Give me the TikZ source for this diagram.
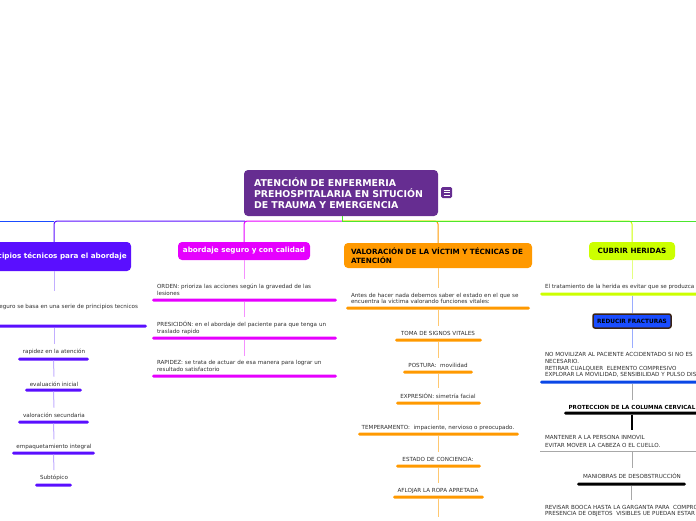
\documentclass[tikz,border=0pt]{standalone}
\usepackage{fontspec}
\setmainfont{DejaVu Sans}
\definecolor{rootc}{HTML}{662D91}
\definecolor{purpc}{HTML}{5A0FFF}
\definecolor{purpl}{HTML}{C2AEFF}
\definecolor{magc}{HTML}{E600FF}
\definecolor{magl}{HTML}{F590FF}
\definecolor{orc}{HTML}{FF9900}
\definecolor{orl}{HTML}{FFC870}
\definecolor{ylc}{HTML}{CCFF00}
\definecolor{yll}{HTML}{E4FF80}
\definecolor{bluec}{HTML}{1A4CFF}
\definecolor{bluel}{HTML}{9AACFF}
\definecolor{blueul}{HTML}{0A47E6}
\definecolor{greenc}{HTML}{4CE62E}
\definecolor{frame}{HTML}{3B2314}
\definecolor{grayl}{HTML}{A8A8A8}
\definecolor{txt}{HTML}{2E2E2E}
\begin{document}
\begin{tikzpicture}[x=1pt,y=-1pt,
  root/.style={fill=rootc, rounded corners=4pt, text=white,
    font=\fontsize{9.4}{11}\selectfont\bfseries, minimum width=194pt,
    minimum height=46pt, text width=174pt, align=left, inner sep=0pt},
  br/.style={fill=#1, rounded corners=4pt, inner sep=0pt,
    font=\fontsize{7.2}{9}\selectfont\bfseries},
  subtxt/.style={font=\fontsize{5.6}{6.5}\selectfont, text=txt, inner sep=1pt, outer sep=4pt},
  ulbar/.style={fill=#1, inner sep=0pt, minimum height=3pt, rounded corners=1.5pt},
  conn/.style={draw=#1, line width=1pt},
  bus/.style={draw=#1, line width=1pt, rounded corners=3pt}
]
\useasboundingbox (0,0) rectangle (696,520);
\clip (0,0) rectangle (696,520);

% root
\node[root] (root) at (341,193) {ATENCIÓN DE ENFERMERIA\\PREHOSPITALARIA EN SITUCIÓN\\DE TRAUMA Y EMERGENCIA};
\node[fill=rootc, rounded corners=1.5pt, minimum size=11pt, inner sep=0pt] (menu) at (446.5,192.5) {};
\foreach \dy in {-2.5,0,2.5}
  \draw[white, line width=0.8pt] ([shift={(-3pt,\dy pt)}]menu.center) -- ([shift={(3pt,\dy pt)}]menu.center);

% main branches
\node[br=purpc, text=white, minimum width=154pt, minimum height=29pt] (P) at (54,256.5) {Principios técnicos para el abordaje};
\node[br=magc, text=white, minimum width=132pt, minimum height=18pt] (M) at (244,251) {abordaje seguro y con calidad};
\node[br=orc, text=black, minimum width=188pt, minimum height=25pt, text width=174pt, align=left] (O) at (438,255.5) {VALORACIÓN DE LA VÍCTIM Y TÉCNICAS DE\\ATENCIÓN};
\node[br=ylc, text=black, minimum width=86pt, minimum height=18pt] (Y) at (632,251) {CUBRIR HERIDAS};

% bus
\coordinate (busR) at (342,221);
\coordinate (busM) at (245,221);
\coordinate (busP) at (54,221);
\coordinate (busL) at (-5,221);
\coordinate (busE) at (700,221);
\draw[bus=magc] (busR) -| (M.north);
\draw[bus=purpc] (busM) -| (P.north);
\draw[conn=bluec] (busP) -- (busL);
\draw[bus=orc] (busR) -| (O.north);
\draw[bus=ylc] (busR) -| (Y.north);
\draw[conn=greenc] (root.south -| busR) -- (busR) -- (busE);

% ---- branch P
\node[subtxt, anchor=east] (p0) at (143,307) {El abordaje seguro se basa en una serie de principios tecnicos};
\node[ulbar=purpc, minimum width=160pt] (p0u) at (67,326) {};
\coordinate (p0top) at (54,291);
\node[subtxt] (p1) at (54,352) {rapidez en la atención};
\node[ulbar=purpc, minimum width=71pt] (p1u) at (53.5,359) {};
\node[subtxt] (p2) at (54,384) {evaluación inicial};
\node[ulbar=purpc, minimum width=57pt] (p2u) at (53.5,390) {};
\node[subtxt] (p3) at (54,415) {valoración secundaria};
\node[ulbar=purpc, minimum width=71pt] (p3u) at (53.5,422) {};
\node[subtxt] (p4) at (54,447) {empaquetamiento integral};
\node[ulbar=purpc, minimum width=83pt] (p4u) at (53.5,453) {};
\node[subtxt] (p5) at (54,478) {Subtópico};
\node[ulbar=purpc, minimum width=37pt] (p5u) at (53.5,485) {};
\draw[conn=purpl] (P.south) -- (p0top);
\draw[conn=purpl] (p0u.south -| P.south) -- (p1.north);
\draw[conn=purpl] (p1u.south) -- (p2.north);
\draw[conn=purpl] (p2u.south) -- (p3.north);
\draw[conn=purpl] (p3u.south) -- (p4.north);
\draw[conn=purpl] (p4u.south) -- (p5.north);

% ---- branch M
\node[subtxt, text width=180pt, align=left] (m1) at (247,290) {ORDEN: prioriza las acciones según la gravedad de las\\lesiones};
\node[ulbar=magc, minimum width=185pt] (m1u) at (244.5,300) {};
\node[subtxt, text width=180pt, align=left] (m2) at (247,328) {PRESICIDÓN: en el abordaje del paciente para que tenga un\\traslado rapido};
\node[ulbar=magc, minimum width=185pt] (m2u) at (244.5,338) {};
\node[subtxt, text width=180pt, align=left] (m3) at (247,366) {RAPIDEZ: se trata de actuar de esa manera para lograr un\\resultado satisfactorio};
\node[ulbar=magc, minimum width=185pt] (m3u) at (244.5,376) {};
\draw[conn=magl] (M.south) -- (M.south |- m1.north);
\draw[conn=magl] (m1u.south) -- (m1u.south |- m2.north);
\draw[conn=magl] (m2u.south) -- (m2u.south |- m3.north);

% ---- branch O
\node[subtxt, text width=180pt, align=left] (o1) at (441,298.5) {Antes de hacer nada debemos saber el estado en el que se\\encuentra la victima valorando funciones vitales:};
\node[ulbar=orc, minimum width=184pt] (o1u) at (438,308) {};
\node[subtxt] (o2) at (438,333) {TOMA DE SIGNOS VITALES};
\node[ulbar=orc, minimum width=87pt] (o2u) at (438.5,340) {};
\node[subtxt] (o3) at (438,365) {POSTURA:\ \ movilidad};
\node[ulbar=orc, minimum width=70pt] (o3u) at (438,372) {};
\node[subtxt] (o4) at (438,396) {EXPRESIÓN: simetría facial};
\node[ulbar=orc, minimum width=85pt] (o4u) at (438.5,403) {};
\node[subtxt] (o5) at (438,428) {TEMPERAMENTO:\ \ impaciente, nervioso o preocupado.};
\node[ulbar=orc, minimum width=161pt] (o5u) at (438.5,434) {};
\node[subtxt] (o6) at (438,459) {ESTADO DE CONCIENCIA:};
\node[ulbar=orc, minimum width=85pt] (o6u) at (438.5,466) {};
\node[subtxt] (o7) at (438,491) {AFLOJAR LA ROPA APRETADA};
\node[ulbar=orc, minimum width=91pt] (o7u) at (438.5,497) {};
\coordinate (oend) at (438,517);
\draw[conn=orl] (O.south) -- (O.south |- o1.north);
\draw[conn=orl] (o1u.south) -- (o1u.south |- o2.north);
\draw[conn=orl] (o2u.south) -- (o2u.south |- o3.north);
\draw[conn=orl] (o3u.south) -- (o3u.south |- o4.north);
\draw[conn=orl] (o4u.south) -- (o4u.south |- o5.north);
\draw[conn=orl] (o5u.south) -- (o5u.south |- o6.north);
\draw[conn=orl] (o6u.south) -- (o6u.south |- o7.north);
\draw[conn=orl] (o7u.south) -- (o7u.south |- oend);

% ---- branch Y
\node[subtxt, anchor=west] (y1) at (540,287) {El tratamiento de la herida es evitar que se produzca infección};
\node[ulbar=ylc, minimum width=184pt] (y1u) at (632,294) {};
\node[fill=bluec, draw=frame, line width=1.5pt, rounded corners=2pt, minimum width=78pt, minimum height=14pt, inner sep=0pt,
  font=\fontsize{5.8}{7}\selectfont\bfseries] (R) at (632,321) {REDUCIR FRACTURAS};
\node[subtxt, anchor=west, align=left, font=\fontsize{5.6}{6.7}\selectfont] (y2) at (540,365) {NO MOVILIZAR AL PACIENTE ACCIDENTADO SI NO ES\\NECESARIO.\\RETIRAR CUALQUIER\ \ ELEMENTO COMPRESIVO\\EXPLORAR LA MOVILIDAD, SENSIBILIDAD Y PULSO DISTAL};
\node[ulbar=blueul, minimum width=184pt] (y2u) at (632,382) {};
\node[subtxt, font=\fontsize{5.6}{6.5}\selectfont\bfseries, text=black] (y3) at (632,407) {PROTECCION DE LA COLUMNA CERVICAL};
\node[ulbar=black, minimum width=136pt] (y3u) at (632,413) {};
\node[subtxt, anchor=west, align=left, font=\fontsize{5.6}{8}\selectfont] (y4) at (540,441) {MANTENER A LA PERSONA INMOVIL\\EVITAR MOVER LA CABEZA O EL CUELLO.};
\node[fill=grayl, inner sep=0pt, minimum height=1pt, minimum width=184pt] (y4u) at (632,451) {};
\node[subtxt] (y5) at (632,476) {MANIOBRAS DE DESOBSTRUCCIÓN};
\node[ulbar=black, minimum width=109pt] (y5u) at (631.5,484) {};
\node[subtxt, anchor=west, align=left] (y6) at (540,511) {REVISAR BOOCA HASTA LA GARGANTA PARA\ \ COMPROBAR LA\\PRESENCIA DE OBJETOS\ \ VISIBLES UE PUEDAN ESTAR};
\draw[conn=yll] (Y.south) -- (Y.south |- y1.north);
\draw[conn=bluel] (y1u.south) -- (R.north);
\draw[conn=bluel] (R.south) -- (R.south |- y2.north);
\draw[conn=grayl] (y2u.south) -- (y2u.south |- y3.north);
\draw[line width=2.5pt] (y3u.south) -- (y3u.south |- y4.north);
\draw[conn=grayl] (y4u.south) -- (y4u.south |- y5.north);
\draw[conn=grayl] (y5u.south) -- (y5u.south |- y6.north);
\end{tikzpicture}
\end{document}
